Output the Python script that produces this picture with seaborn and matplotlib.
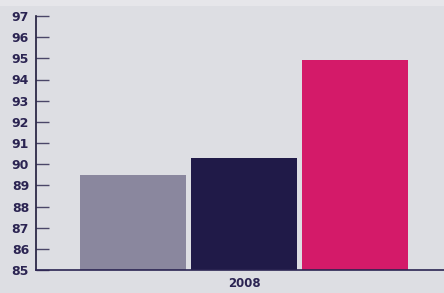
import matplotlib
matplotlib.use("Agg")
import matplotlib.pyplot as plt
import seaborn as sns
import pandas as pd
from matplotlib.patches import Rectangle

years = ["2008", "2008", "2008"]
series = ["Series A", "Series B", "Series C"]
values = [89.5, 90.3, 94.9]
colors = ["#8a879e", "#201a48", "#d41a69"]
yticks = list(range(85, 98))

df = pd.DataFrame({"year": years, "series": series, "value": values})

sns.set_style("white")
plt.rcParams["font.family"] = ["DejaVu Sans"]

bg = "#dddee3"
fig = plt.figure(figsize=(4.44, 2.93), dpi=100, facecolor=bg)
fig.patches.append(Rectangle((0, 1 - 6 / 293), 1, 6 / 293, transform=fig.transFigure,
                             facecolor="#e6e6ea", edgecolor="none", zorder=0))
ax = fig.add_axes([36 / 444, 1 - 270 / 293, 408 / 444, (270 - 16) / 293])
ax.set_facecolor(bg)

sns.barplot(data=df, x="year", y="value", hue="series", palette=colors,
            width=0.81, gap=0.045, ax=ax, legend=False, saturation=1, linewidth=0)

ax.set_ylim(85, 97)
ax.set_xlim(-208 / 410, 200 / 410)
ax.set_yticks(yticks)
ax.set_yticklabels([str(t) for t in yticks], fontweight="bold", color="#2b2452", fontsize=9)
ax.tick_params(axis="y", direction="in", length=9, width=1, color="#4a4668", pad=5, left=True)
ax.tick_params(axis="x", length=0, pad=5)
for lbl in ax.get_xticklabels():
    lbl.set_fontweight("bold")
    lbl.set_color("#2b2452")
    lbl.set_fontsize(8.5)
ax.set_xlabel("")
ax.set_ylabel("")
for s in ["top", "right"]:
    ax.spines[s].set_visible(False)
ax.spines["left"].set_color("#1e1a3a")
ax.spines["left"].set_linewidth(1.2)
ax.spines["bottom"].set_color("#2b2452")
ax.spines["bottom"].set_linewidth(1.2)

fig.savefig("out.png", dpi=100, facecolor=bg)
